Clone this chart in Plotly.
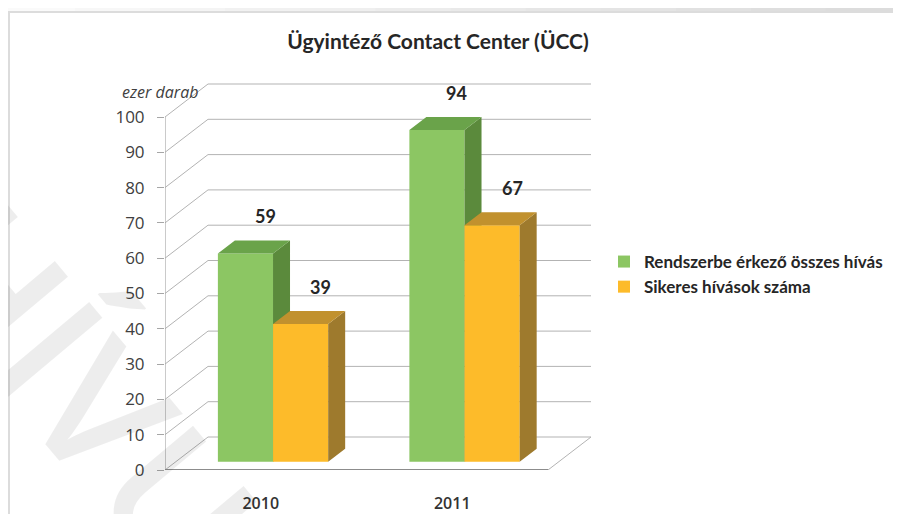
import plotly.graph_objects as go

# ---------------- data ----------------
categories = ["2010", "2011"]
series_names = ["Rendszerbe érkező összes hívás", "Sikeres hívások száma"]
total_calls = [59, 94]
successful_calls = [39, 67]
y_ticks = list(range(0, 101, 10))
title_text = "Ügyintéző Contact Center (ÜCC)"
unit_label = "ezer darab"
watermark_text = "ARCHÍVUM"

# ---------------- styling / geometry ----------------
OFF = 8                    # page body margin of the html page
W, H = 901, 514
PX_L, PX_R = 165 - OFF, 596 - OFF      # plot area in figure pixels
PX_B, PX_T = 470 - OFF, 80 - OFF
UNIT_X = 191.5             # px per category (front plane)
UNIT_Y = 3.53              # px per value unit
XMAX = (PX_R - PX_L) / UNIT_X
YMAX = (PX_B - PX_T) / UNIT_Y
DX = 43 / UNIT_X           # full depth offset in x units
DY = 33 / UNIT_Y           # full depth offset in y units
D0, D1 = 0.25, 0.645       # bar depth span (fraction of full depth)
BW = 0.288                 # bar width (category units)
GC = 0.008                 # group centre shift

front_cols = ["#8CC663", "#FDBB2A"]
top_cols = ["#6AA34A", "#C1912E"]
side_cols = ["#5B8A3C", "#9E7A2D"]
grid_col = "#b3b3b3"
txt_col = "#404040"

NARROW = "Lato, Roboto, sans-serif"
SANS = "Open Sans, Noto Sans, sans-serif"


def proj(u, v, d):
    return u + d * DX, v + d * DY


def px_to_paper(px, py):
    """reference-picture pixel -> paper coordinates"""
    px, py = px - OFF, py - OFF
    return (px - PX_L) / (PX_R - PX_L), (PX_B - py) / (PX_B - PX_T)


fig = go.Figure()
series_vals = [total_calls, successful_calls]
layers = [("x", "y"), ("x2", "y2")]
annotations = []

for s, vals in enumerate(series_vals):
    xa, ya = layers[s]
    side_x, side_y, top_x, top_y = [], [], [], []
    bar_x = []
    for i, val in enumerate(vals):
        ul = i + 0.5 + GC - BW + s * BW
        ur = ul + BW
        pts = [proj(ur, 0, D0), proj(ur, val, D0), proj(ur, val, D1), proj(ur, 0, D1), proj(ur, 0, D0)]
        side_x += [p[0] for p in pts] + [None]
        side_y += [p[1] for p in pts] + [None]
        pts = [proj(ul, val, D0), proj(ur, val, D0), proj(ur, val, D1), proj(ul, val, D1), proj(ul, val, D0)]
        top_x += [p[0] for p in pts] + [None]
        top_y += [p[1] for p in pts] + [None]
        bar_x.append(proj((ul + ur) / 2, 0, D0)[0])
        lx, ly = proj((ul + ur) / 2, val, D1)
        annotations.append(dict(x=lx, y=ly, xref=xa, yref=ya, text=f"<b>{val}</b>",
                                showarrow=False, yshift=24, xshift=3,
                                font=dict(family=NARROW, size=18, color="#262626")))
    fig.add_trace(go.Scatter(x=side_x, y=side_y, fill="toself", mode="lines",
                             line=dict(width=0, color=side_cols[s]), fillcolor=side_cols[s],
                             showlegend=False, hoverinfo="skip", xaxis=xa, yaxis=ya))
    fig.add_trace(go.Scatter(x=top_x, y=top_y, fill="toself", mode="lines",
                             line=dict(width=0, color=top_cols[s]), fillcolor=top_cols[s],
                             showlegend=False, hoverinfo="skip", xaxis=xa, yaxis=ya))
    fig.add_trace(go.Bar(x=bar_x, y=vals, base=D0 * DY, width=BW, name=series_names[s],
                         marker=dict(color=front_cols[s], line=dict(width=0)),
                         xaxis=xa, yaxis=ya))

# ---------------- 3D walls / grid ----------------
shapes = []
for v in y_ticks:
    x1, y1 = proj(0, v, 1)
    x2, y2 = proj(2, v, 1)
    shapes.append(dict(type="line", xref="x", yref="y", x0=0, y0=v, x1=x1, y1=y1,
                       line=dict(color=grid_col, width=1), layer="below"))
    shapes.append(dict(type="line", xref="x", yref="y", x0=x1, y0=y1, x1=x2, y1=y2,
                       line=dict(color=grid_col, width=1), layer="below"))
fx, fy = proj(2, 0, 1)
shapes.append(dict(type="line", xref="x", yref="y", x0=2, y0=0, x1=fx, y1=fy,
                   line=dict(color=grid_col, width=1), layer="below"))
shapes.append(dict(type="line", xref="x", yref="y", x0=0, y0=y_ticks[-1], x1=0, y1=0,
                   line=dict(color="#a6a6a6", width=1.2), layer="below"))
shapes.append(dict(type="line", xref="x", yref="y", x0=0, y0=0, x1=2, y1=0,
                   line=dict(color="#8c8c8c", width=2), layer="below"))
for i in range(len(categories) + 1):
    shapes.append(dict(type="line", xref="x", yref="y", ysizemode="pixel", yanchor=0,
                       x0=i, x1=i, y0=0, y1=-7, line=dict(color="#a6a6a6", width=1), layer="below"))

# ---------------- frame / background decoration ----------------
steps = 12
for k in range(steps):
    a0, b0 = px_to_paper(901 * k / steps, -10)
    a1, b1 = px_to_paper(901 * (k + 1) / steps + 1, 11)
    g = int(250 - 30 * (k / (steps - 1)))
    shapes.append(dict(type="rect", xref="paper", yref="paper", x0=a0, x1=a1, y0=b0, y1=b1,
                       fillcolor=f"rgb({g},{g},{g})", line=dict(width=0), layer="below"))
a0, b0 = px_to_paper(9, 12)
a1, b1 = px_to_paper(940, 560)
shapes.append(dict(type="rect", xref="paper", yref="paper", x0=a0, x1=a1, y0=b0, y1=b1,
                   fillcolor="rgba(0,0,0,0)", line=dict(color="#dcdcdc", width=2), layer="below"))

# unit label
ux, uy = px_to_paper(120, 79)
annotations.append(dict(x=ux, y=uy, xref="paper", yref="paper", text="<i>" + unit_label + "</i>",
                        showarrow=False, font=dict(family=SANS, size=16, color=txt_col)))
# watermark
wx, wy = px_to_paper(30, 320)
annotations.append(dict(x=wx, y=wy, xref="paper", yref="paper", text=watermark_text, textangle=50,
                        xanchor="center", yanchor="middle", showarrow=False,
                        font=dict(family=SANS, size=175, color="rgba(0,0,0,0.07)", weight=600)))

fig.update_layout(
    width=W, height=H,
    margin=dict(l=PX_L, r=W - PX_R, t=PX_T, b=H - PX_B, pad=0, autoexpand=False),
    paper_bgcolor="white", plot_bgcolor="rgba(0,0,0,0)",
    barmode="overlay",
    title=dict(text="<b>" + title_text + "</b>", x=(438 - OFF) / W, xref="container", xanchor="center",
               y=1 - (42 - OFF) / H, yref="container", yanchor="middle",
               font=dict(family=NARROW, size=21, color="#262626")),
    xaxis=dict(range=[0, XMAX], tickvals=[i + 0.5 for i in range(len(categories))], ticktext=categories,
               showgrid=False, zeroline=False, showline=False, ticks="", ticklabelstandoff=22,
               automargin=False,
               tickfont=dict(family=SANS, size=16, color="#333333", weight=600), fixedrange=True),
    yaxis=dict(range=[0, YMAX], tickvals=y_ticks, showgrid=False, zeroline=False, showline=False,
               ticks="outside", ticklen=7, tickcolor="#a6a6a6", ticklabelstandoff=9,
               automargin=False,
               tickfont=dict(family=SANS, size=17, color=txt_col), fixedrange=True),
    xaxis2=dict(range=[0, XMAX], overlaying="x", anchor="y2", visible=False, fixedrange=True),
    yaxis2=dict(range=[0, YMAX], overlaying="y", anchor="x2", visible=False, fixedrange=True),
    legend=dict(x=(604 - OFF) / W, y=1 - (244 - OFF) / H, xref="container", yref="container",
                xanchor="left", yanchor="top",
                bgcolor="rgba(0,0,0,0)", itemwidth=30,
                font=dict(family=NARROW, size=17, color="#262626", weight="bold")),
    shapes=shapes,
    annotations=annotations,
)

fig.write_html("out.html")
